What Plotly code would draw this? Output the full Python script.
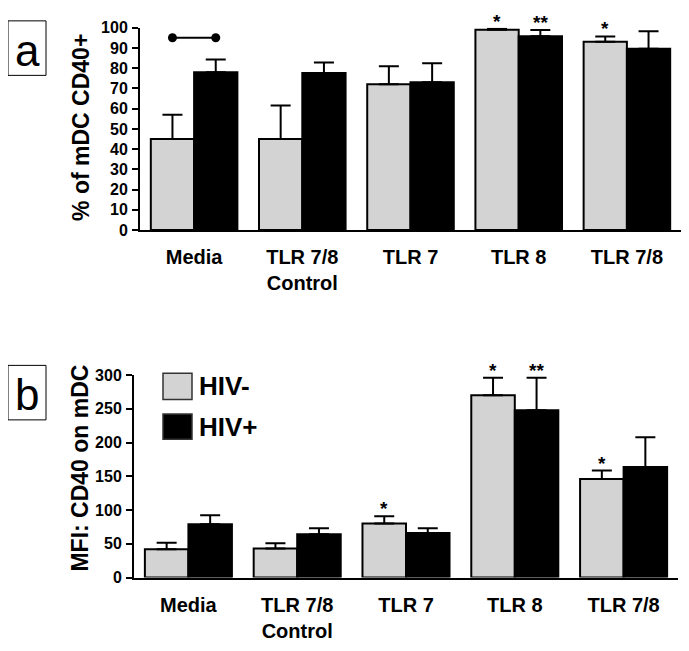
import numpy as np
import plotly.graph_objects as go

# ------------------------------------------------------------
# Data
# ------------------------------------------------------------
categories = ["Media", "TLR 7/8<br>Control", "TLR 7", "TLR 8", "TLR 7/8"]

# panel a: % of mDC CD40+
a_neg = [45, 45, 72, 99, 93]
a_neg_err = [12, 16.5, 9, 0.5, 2.7]
a_pos = [78, 77.6, 73, 95.8, 89.6]
a_pos_err = [6.3, 5.2, 9.4, 3, 8.6]
a_neg_sig = ["", "", "", "*", "*"]
a_pos_sig = ["", "", "", "**", ""]
a_bracket = (0, 95)   # category index, y level

# panel b: MFI CD40 on mDC
b_neg = [42, 43, 80, 270, 146]
b_neg_err = [9.5, 8, 11, 26, 12.5]
b_pos = [79, 64, 66, 248, 164]
b_pos_err = [13.5, 9, 7, 48, 44]
b_neg_sig = ["", "", "*", "*", "*"]
b_pos_sig = ["", "", "", "**", ""]

# page is 689x651; the html body keeps its default 8px margin
PAGE_W, PAGE_H, BODY = 689, 651, 8
W, H = PAGE_W - 2 * BODY, PAGE_H - 2 * BODY
GRAY = "#d3d3d3"
FONT = "Liberation Sans"
OFF = 0.2   # half of the bar pair width in category units


def px(x):
    # page pixel -> paper fraction
    return min(max((x - BODY) / W, 0), 1)


def py(y):
    return min(max(1 - (y - BODY) / H, 0), 1)


x = np.arange(len(categories))
fig = go.Figure()


def add_panel(neg, neg_err, pos, pos_err, xa, ya):
    for vals, errs, col in [(neg, neg_err, GRAY), (pos, pos_err, "black")]:
        fig.add_trace(go.Bar(
            x=x, y=vals, xaxis=xa, yaxis=ya,
            marker=dict(color=col, line=dict(color="black", width=2)),
            error_y=dict(type="data", symmetric=False, array=errs,
                         arrayminus=[0] * len(errs), color="black",
                         thickness=2, width=10),
            showlegend=False,
        ))


add_panel(a_neg, a_neg_err, a_pos, a_pos_err, "x", "y")
add_panel(b_neg, b_neg_err, b_pos, b_pos_err, "x2", "y2")

# significance bracket in panel a
bi, by = a_bracket
fig.add_trace(go.Scatter(
    x=[bi - OFF, bi + OFF], y=[by, by], xaxis="x", yaxis="y",
    mode="lines+markers", line=dict(color="black", width=2),
    marker=dict(color="black", size=9), showlegend=False,
))

annotations = []


def add_stars(vals, errs, sigs, offset, xa, ya):
    for i, (v, e, s) in enumerate(zip(vals, errs, sigs)):
        if s:
            annotations.append(dict(
                x=i + offset, y=v + e, xref=xa, yref=ya, text=s,
                showarrow=False, yanchor="bottom", yshift=-5,
                font=dict(family=FONT, size=19, color="black", weight="bold"),
            ))


add_stars(a_neg, a_neg_err, a_neg_sig, -OFF, "x", "y")
add_stars(a_pos, a_pos_err, a_pos_sig, OFF, "x", "y")
add_stars(b_neg, b_neg_err, b_neg_sig, -OFF, "x2", "y2")
add_stars(b_pos, b_pos_err, b_pos_sig, OFF, "x2", "y2")

# y titles
for text, xc, yc in [("% of mDC CD40+", 81, 123), ("MFI: CD40 on mDC", 80, 473)]:
    annotations.append(dict(
        x=px(xc), y=py(yc), xref="paper", yref="paper", text=text,
        textangle=-90, showarrow=False, xanchor="center", yanchor="middle",
        font=dict(family=FONT, size=23, color="black", weight="bold"),
    ))

# panel letters
shapes = []
for letter, y0, y1 in [("a", 13, 69), ("b", 367, 423)]:
    shapes.append(dict(type="rect", xref="paper", yref="paper",
                       x0=px(8), x1=px(46), y0=py(y1), y1=py(y0),
                       line=dict(color="black", width=1)))
    annotations.append(dict(
        x=px(27), y=py((y0 + y1) / 2 + 2), xref="paper", yref="paper",
        text=letter, showarrow=False, xanchor="center", yanchor="middle",
        font=dict(family=FONT, size=44, color="black"),
    ))

# legend (panel b)
for label, col, y0, y1 in [("HIV-", GRAY, 375, 402), ("HIV+", "black", 417, 443)]:
    shapes.append(dict(type="rect", xref="paper", yref="paper",
                       x0=px(163), x1=px(192), y0=py(y1), y1=py(y0),
                       fillcolor=col, line=dict(color="#333333", width=1.5)))
    annotations.append(dict(
        x=px(197), y=py((y0 + y1) / 2), xref="paper", yref="paper",
        text=label, showarrow=False, xanchor="left", yanchor="middle",
        font=dict(family=FONT, size=26, color="black", weight="bold"),
    ))

xcommon = dict(
    range=[-0.5, 4.5], tickvals=x, ticktext=categories, showgrid=False,
    zeroline=False, showline=True, linecolor="black", linewidth=2,
    ticks="", ticklabelstandoff=8,
    tickfont=dict(family=FONT, size=20, color="black", weight="bold"),
)
ycommon = dict(
    showgrid=False, zeroline=False, showline=True, linecolor="black",
    linewidth=2, ticks="outside", ticklen=6, tickwidth=2, tickcolor="black",
    ticklabelstandoff=1,
    tickfont=dict(family=FONT, size=16, color="black", weight="bold"),
)

fig.update_layout(
    width=W, height=H,
    margin=dict(l=0, r=0, t=0, b=0),
    paper_bgcolor="white", plot_bgcolor="white",
    barmode="group", bargap=0.2, bargroupgap=0,
    xaxis=dict(domain=[px(140), px(681)], anchor="y", **xcommon),
    yaxis=dict(domain=[py(228), py(20)], anchor="x", range=[0, 100],
               dtick=10, **ycommon),
    xaxis2=dict(domain=[px(134), px(678)], anchor="y2", **xcommon),
    yaxis2=dict(domain=[py(585), py(377)], anchor="x2", range=[0, 300],
                dtick=50, **ycommon),
    annotations=annotations,
    shapes=shapes,
)

fig.write_html("out.html")
